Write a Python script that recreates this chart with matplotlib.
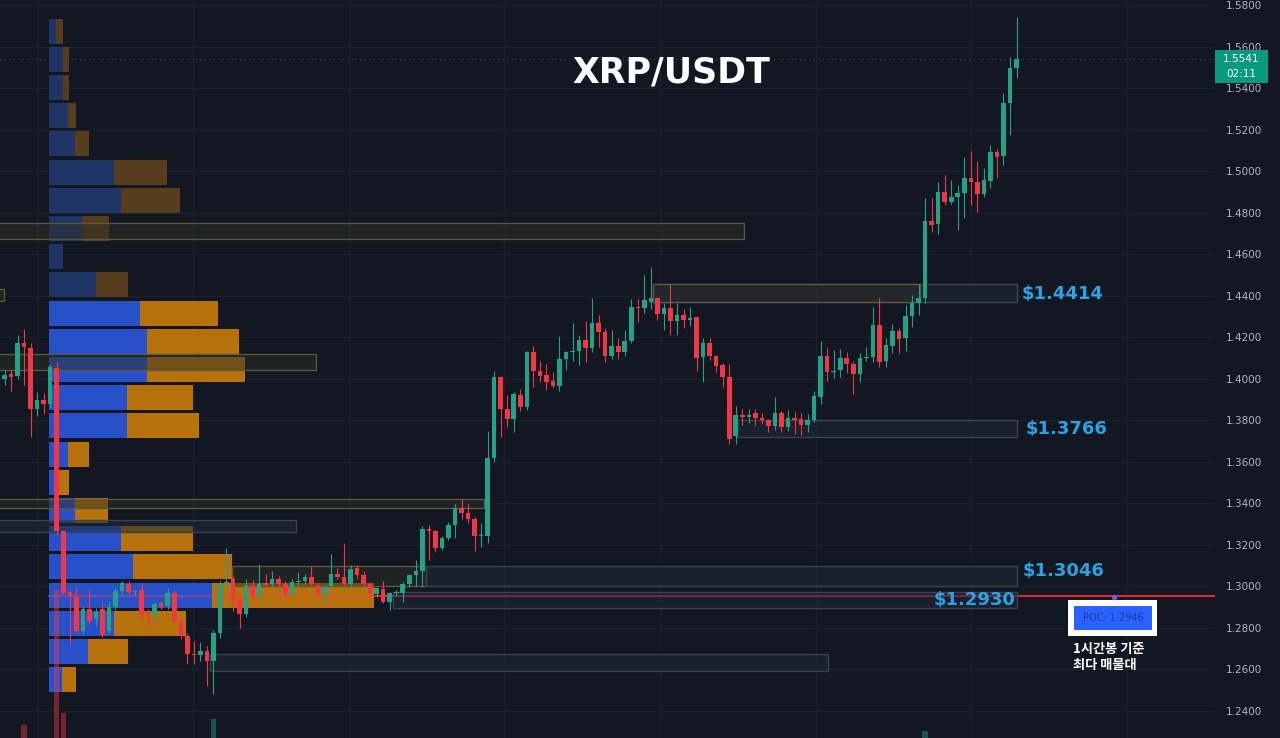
import numpy as np
import matplotlib.pyplot as plt
from matplotlib.patches import Rectangle

# ---- XRP/USDT 1h candles ----
opens = [1.4000, 1.4025, 1.4015, 1.4170, 1.4150, 1.3855, 1.3900, 1.3880, 1.4050, 1.3265,
         1.2975, 1.2950, 1.2786, 1.2890, 1.2845, 1.2890, 1.2786, 1.2900, 1.2980, 1.3010,
         1.2973, 1.2985, 1.2875, 1.2860, 1.2918, 1.2906, 1.2970, 1.2834, 1.2762, 1.2675,
         1.2668, 1.2690, 1.2641, 1.2776, 1.3015, 1.3035, 1.2940, 1.2868, 1.3000, 1.2955,
         1.3015, 1.3012, 1.3036, 1.3010, 1.2965, 1.3020, 1.3025, 1.3045, 1.3003, 1.2965,
         1.3002, 1.3060, 1.3045, 1.3012, 1.3090, 1.3055, 1.3012, 1.2965, 1.2988, 1.2926,
         1.2968, 1.2968, 1.3010, 1.3055, 1.3074, 1.3275, 1.3265, 1.3185, 1.3233, 1.3296,
         1.3377, 1.3355, 1.3325, 1.3243, 1.3245, 1.3618, 1.4007, 1.3853, 1.3805, 1.3920,
         1.3865, 1.4127, 1.4036, 1.4017, 1.3988, 1.3964, 1.4093, 1.4127, 1.4132, 1.4185,
         1.4146, 1.4270, 1.4223, 1.4108, 1.4156, 1.4127, 1.4180, 1.4348, 1.4343, 1.4372,
         1.4387, 1.4310, 1.4343, 1.4276, 1.4305, 1.4281, 1.4296, 1.4103, 1.4170, 1.4108,
         1.4065, 1.4007, 1.3723, 1.3824, 1.3815, 1.3834, 1.3810, 1.3800, 1.3771, 1.3834,
         1.3767, 1.3810, 1.3805, 1.3776, 1.3800, 1.3911, 1.4108, 1.4031, 1.4041, 1.4098,
         1.4070, 1.4021, 1.4098, 1.4103, 1.4257, 1.4084, 1.4156, 1.4228, 1.4194, 1.4300,
         1.4367, 1.4387, 1.4762, 1.4747, 1.4901, 1.4853, 1.4877, 1.4896, 1.4968, 1.4949,
         1.4891, 1.4954, 1.5093, 1.5074, 1.5329, 1.5497]
highs = [1.4040, 1.4040, 1.4210, 1.4240, 1.4170, 1.3935, 1.3930, 1.4070, 1.4080, 1.3270,
         1.2985, 1.2995, 1.2905, 1.2985, 1.2895, 1.2925, 1.2925, 1.2995, 1.3025, 1.3025,
         1.2985, 1.3015, 1.2890, 1.2925, 1.2930, 1.2990, 1.2985, 1.2845, 1.2775, 1.2735,
         1.2730, 1.2715, 1.2790, 1.3025, 1.3185, 1.3050, 1.2955, 1.3035, 1.3030, 1.3110,
         1.3060, 1.3075, 1.3050, 1.3025, 1.3035, 1.3070, 1.3060, 1.3100, 1.3015, 1.3005,
         1.3155, 1.3090, 1.3210, 1.3105, 1.3105, 1.3075, 1.3020, 1.2995, 1.3025, 1.2975,
         1.2985, 1.3020, 1.3060, 1.3128, 1.3290, 1.3295, 1.3270, 1.3245, 1.3310, 1.3395,
         1.3420, 1.3395, 1.3335, 1.3305, 1.3748, 1.4036, 1.4015, 1.3920, 1.3935, 1.3950,
         1.4135, 1.4156, 1.4085, 1.4070, 1.4035, 1.4205, 1.4135, 1.4270, 1.4210, 1.4276,
         1.4390, 1.4305, 1.4245, 1.4235, 1.4195, 1.4235, 1.4385, 1.4385, 1.4502, 1.4540,
         1.4395, 1.4365, 1.4455, 1.4363, 1.4335, 1.4345, 1.4300, 1.4195, 1.4195, 1.4115,
         1.4075, 1.4069, 1.3868, 1.3855, 1.3855, 1.3855, 1.3835, 1.3805, 1.3911, 1.3845,
         1.3850, 1.3840, 1.3835, 1.3830, 1.3940, 1.4180, 1.4150, 1.4140, 1.4145, 1.4130,
         1.4085, 1.4125, 1.4155, 1.4348, 1.4391, 1.4195, 1.4262, 1.4245, 1.4355, 1.4405,
         1.4455, 1.4872, 1.4870, 1.4950, 1.4983, 1.4955, 1.4935, 1.5070, 1.5095, 1.5050,
         1.5015, 1.5125, 1.5105, 1.5375, 1.5550, 1.5742]
lows = [1.3970, 1.3940, 1.4000, 1.3970, 1.3720, 1.3820, 1.3830, 1.3860, 1.3250, 1.2960,
        1.2720, 1.2775, 1.2770, 1.2820, 1.2810, 1.2755, 1.2775, 1.2885, 1.2960, 1.2965,
        1.2960, 1.2835, 1.2800, 1.2830, 1.2890, 1.2890, 1.2820, 1.2745, 1.2628, 1.2625,
        1.2640, 1.2522, 1.2483, 1.2750, 1.2985, 1.2880, 1.2800, 1.2855, 1.2945, 1.2935,
        1.2990, 1.2995, 1.2995, 1.2955, 1.2950, 1.3000, 1.3010, 1.3000, 1.2955, 1.2925,
        1.2990, 1.3035, 1.3000, 1.2990, 1.3035, 1.3000, 1.2955, 1.2950, 1.2920, 1.2888,
        1.2955, 1.2925, 1.2995, 1.3000, 1.2995, 1.3128, 1.3165, 1.3175, 1.3225, 1.3235,
        1.3325, 1.3305, 1.3170, 1.3190, 1.3210, 1.3600, 1.3720, 1.3770, 1.3745, 1.3845,
        1.3850, 1.3960, 1.3985, 1.3945, 1.3955, 1.3940, 1.4040, 1.4085, 1.4065, 1.4080,
        1.4130, 1.4155, 1.4080, 1.4095, 1.4095, 1.4110, 1.4170, 1.4275, 1.4318, 1.4335,
        1.4282, 1.4235, 1.4210, 1.4210, 1.4245, 1.4255, 1.4036, 1.3983, 1.4090, 1.4035,
        1.3960, 1.3685, 1.3685, 1.3775, 1.3785, 1.3775, 1.3780, 1.3745, 1.3755, 1.3745,
        1.3750, 1.3735, 1.3730, 1.3745, 1.3790, 1.3880, 1.3990, 1.4005, 1.4007, 1.4030,
        1.3925, 1.3985, 1.4085, 1.4080, 1.4055, 1.4055, 1.4122, 1.4122, 1.4132, 1.4250,
        1.4305, 1.4365, 1.4705, 1.4695, 1.4835, 1.4840, 1.4718, 1.4773, 1.4835, 1.4805,
        1.4875, 1.4920, 1.4968, 1.5031, 1.5175, 1.5449]
closes = [1.4020, 1.4010, 1.4170, 1.4155, 1.3855, 1.3900, 1.3880, 1.4055, 1.3265, 1.2970,
          1.2955, 1.2785, 1.2890, 1.2835, 1.2875, 1.2765, 1.2900, 1.2980, 1.3015, 1.2975,
          1.2978, 1.2868, 1.2865, 1.2915, 1.2902, 1.2970, 1.2835, 1.2762, 1.2675, 1.2668,
          1.2688, 1.2641, 1.2776, 1.3010, 1.3022, 1.2930, 1.2868, 1.3000, 1.2955, 1.3010,
          1.3005, 1.3036, 1.3012, 1.2965, 1.3020, 1.3025, 1.3045, 1.3012, 1.2965, 1.2995,
          1.3060, 1.3045, 1.3012, 1.3084, 1.3055, 1.3012, 1.2965, 1.2993, 1.2926, 1.2970,
          1.2975, 1.3010, 1.3055, 1.3074, 1.3275, 1.3265, 1.3185, 1.3233, 1.3296, 1.3377,
          1.3355, 1.3325, 1.3243, 1.3245, 1.3618, 1.4007, 1.3853, 1.3805, 1.3925, 1.3862,
          1.4127, 1.4036, 1.4012, 1.3985, 1.3964, 1.4095, 1.4127, 1.4135, 1.4185, 1.4146,
          1.4270, 1.4223, 1.4108, 1.4156, 1.4127, 1.4180, 1.4348, 1.4340, 1.4377, 1.4387,
          1.4310, 1.4343, 1.4276, 1.4305, 1.4281, 1.4291, 1.4098, 1.4170, 1.4108, 1.4060,
          1.4007, 1.3709, 1.3824, 1.3815, 1.3825, 1.3810, 1.3800, 1.3771, 1.3834, 1.3767,
          1.3810, 1.3800, 1.3776, 1.3800, 1.3916, 1.4108, 1.4031, 1.4036, 1.4098, 1.4070,
          1.4021, 1.4098, 1.4103, 1.4257, 1.4079, 1.4161, 1.4228, 1.4190, 1.4300, 1.4367,
          1.4387, 1.4762, 1.4742, 1.4901, 1.4853, 1.4877, 1.4896, 1.4968, 1.4949, 1.4891,
          1.4959, 1.5093, 1.5069, 1.5329, 1.5497, 1.5541]

# volume bars that show above the bottom edge (candle index -> volume)
vol_index = [3, 8, 9, 32, 141]
vol_value = [13, 148, 25, 19, 7]

# volume profile, 24 rows from top (high) to bottom (low)
buy_vol = [0.70, 1.37, 1.37, 1.93, 2.63, 6.50, 7.20, 3.30, 1.43, 4.67, 9.10, 9.77,
           9.77, 7.77, 7.77, 1.93, 1.03, 2.60, 7.20, 8.43, 16.30, 6.50, 3.93, 1.33]
sell_vol = [0.70, 0.66, 0.66, 0.77, 1.40, 5.27, 5.90, 2.67, 0.00, 3.20, 7.83, 9.20,
            9.80, 6.60, 7.26, 2.07, 0.97, 3.33, 7.17, 9.84, 16.23, 7.17, 3.94, 1.37]
value_area = [False] * 10 + [True] * 14

# support / resistance zones: (start idx, end idx, low, high, style)
zones = [
    (-1.0, 113.3, 1.4673, 1.4750, 'olive'),
    (-1.0, -0.1, 1.4375, 1.4432, 'olive'),
    (-1.0, 47.7, 1.4042, 1.4119, 'olive'),
    (-1.0, 73.4, 1.3378, 1.3421, 'olive'),
    (-1.0, 44.6, 1.3262, 1.3320, 'blue'),
    (34.8, 64.5, 1.3002, 1.3098, 'olive'),
    (99.3, 155.0, 1.4370, 1.4456, 'blue'),
    (99.3, 140.2, 1.4370, 1.4456, 'olive'),
    (112.2, 155.0, 1.3720, 1.3802, 'blue'),
    (64.5, 155.0, 1.3002, 1.3098, 'blue'),
    (59.5, 155.0, 1.2896, 1.2973, 'blue'),
    (31.5, 126.1, 1.2593, 1.2675, 'blue'),
]
level_labels = ['$1.4414', '$1.3766', '$1.3046', '$1.2930']
level_x = [155.8, 156.4, 155.9, 142.3]
level_y = [1.4408, 1.3758, 1.3074, 1.2935]

poc_price = 1.2954
last_price = 1.5541
y_ticks = [1.24, 1.26, 1.28, 1.30, 1.32, 1.34, 1.36, 1.38, 1.40, 1.42,
           1.44, 1.46, 1.48, 1.50, 1.52, 1.54, 1.56, 1.58]

BG = '#131722'
GRID = '#1c202b'
UP = '#22a287'
DOWN = '#f23645'

W, H = 1280, 738
AX_W = 1215

fig = plt.figure(figsize=(W / 100, H / 100), dpi=100, facecolor=BG)
ax = fig.add_axes([0, 0, AX_W / W, 1])
ax.set_facecolor(BG)
ax.set_xlim(-0.69, 185.4)
ax.set_ylim(1.2270, 1.58241)
for s in ax.spines.values():
    s.set_visible(False)

# grid
ax.set_yticks(y_ticks)
ax.set_yticklabels([f'{v:.4f}' for v in y_ticks])
ax.yaxis.tick_right()
ax.tick_params(axis='y', length=0, pad=8, labelsize=7.5, labelcolor='#b2b5be')
ax.set_xticks([5, 28.8, 52.7, 76.5, 100.4, 124.3, 148.1, 171.9])
ax.tick_params(axis='x', length=0, labelbottom=False)
ax.grid(True, color=GRID, lw=1, zorder=0)
ax.set_axisbelow(True)

# zones
for x0, x1, lo, hi, kind in zones:
    if kind == 'olive':
        fc, ec, a = '#2e2f26', '#5a573a', 0.5
    else:
        fc, ec, a = '#1f2838', '#39424f', 0.55
    ax.add_patch(Rectangle((x0, lo), x1 - x0, hi - lo, facecolor=fc, alpha=a,
                           edgecolor='none', zorder=4))
    ax.add_patch(Rectangle((x0, lo), x1 - x0, hi - lo, facecolor='none',
                           edgecolor=ec, lw=1, zorder=4))

# volume profile
o = np.array(opens); h = np.array(highs); l = np.array(lows); c = np.array(closes)
n_rows = len(buy_vol)
pitch = (h.max() - l.min()) / n_rows
row_mid = h.max() - pitch * (np.arange(n_rows) + 0.5)
buy = np.array(buy_vol); sell = np.array(sell_vol)
scale = 49.8 / (buy + sell).max()
prof_left = 6.8
blue_c = ['#2850c8' if v else '#1e3566' for v in value_area]
orng_c = ['#b8720c' if v else '#563d1e' for v in value_area]
ax.barh(row_mid, buy * scale, left=prof_left, height=pitch * 0.89, color=blue_c, zorder=3)
ax.barh(row_mid, sell * scale, left=prof_left + buy * scale, height=pitch * 0.89,
        color=orng_c, zorder=3)

# POC line
poc_row = np.argmax(buy + sell)
poc_end = prof_left + (buy[poc_row] + sell[poc_row]) * scale
ax.plot([prof_left, poc_end], [poc_price, poc_price], color='#e0485a', lw=1.5, alpha=0.45, zorder=3.5)
ax.plot([poc_end, 185.4], [poc_price, poc_price], color='#d62a35', lw=1.5, zorder=3.5)

# volume bars at the bottom
y_bot = 1.2270
px = (1.58241 - 1.2270) / H
for i, v in zip(vol_index, vol_value):
    col = DOWN if c[i] < o[i] else UP
    ax.bar(i, v * px, bottom=y_bot, width=0.8, color=col, alpha=0.45, zorder=4.5)

# candles
x = np.arange(len(o))
cols = np.where(c >= o, UP, DOWN)
ax.vlines(x, l, h, colors=cols, lw=0.8, zorder=5)
body = np.maximum(np.abs(c - o), 0.0005)
ax.bar(x, body, bottom=np.minimum(o, c), width=0.7, color=cols, zorder=5.5)

# last price dotted line
ax.axhline(last_price, color='#24574f', lw=0.8, ls=(0, (1, 3)), zorder=1)

# level labels
for t, lx, ly in zip(level_labels, level_x, level_y):
    ax.text(lx, ly, t, color='#2ba2e6', fontsize=13, fontweight='bold',
            ha='left', va='center', zorder=7)

# title
ax.text(671 / AX_W, 1 - 72 / H, 'XRP/USDT', transform=ax.transAxes, color='white',
        fontsize=25, fontweight='bold', ha='center', va='center', zorder=7)

# POC annotation box
def af(pxx, pyy):
    return pxx / AX_W, 1 - pyy / H

x0, y0 = af(1068, 636)
ax.add_patch(Rectangle((x0, y0), 89 / AX_W, 36 / H, transform=ax.transAxes,
                       facecolor='white', edgecolor='none', zorder=7))
x0, y0 = af(1074, 630)
ax.add_patch(Rectangle((x0, y0), 78 / AX_W, 24 / H, transform=ax.transAxes,
                       facecolor='#2962ff', edgecolor='none', zorder=7.5))
ax.text(*af(1113, 618), f'POC: {1.2946:.4f}', transform=ax.transAxes, color='#1f3a9a',
        fontsize=7, ha='center', va='center', zorder=8)
ax.plot(*af(1114, 597), marker='o', ms=3, color='#6a5ad8', transform=ax.transAxes, zorder=8)
ax.text(*af(1073, 657), '1시간봉 기준\n최다 매물대', transform=ax.transAxes, color='white',
        fontsize=9.5, fontweight='bold', family=['Noto Sans CJK KR', 'DejaVu Sans'],
        ha='left', va='center', linespacing=1.15, zorder=8)

# current price tag on the price scale
fig.patches.append(Rectangle((1215 / W, 1 - 83 / H), 53 / W, 33 / H, transform=fig.transFigure,
                             facecolor='#089981', edgecolor='none', zorder=5))
fig.text(1241 / W, 1 - 59 / H, f'{last_price:.4f}', color='white', fontsize=7.5,
         ha='center', va='center', zorder=6)
fig.text(1241 / W, 1 - 74 / H, '02:11', color='white', fontsize=7.5,
         ha='center', va='center', zorder=6)

fig.savefig('out.png', dpi=100, facecolor=BG)
